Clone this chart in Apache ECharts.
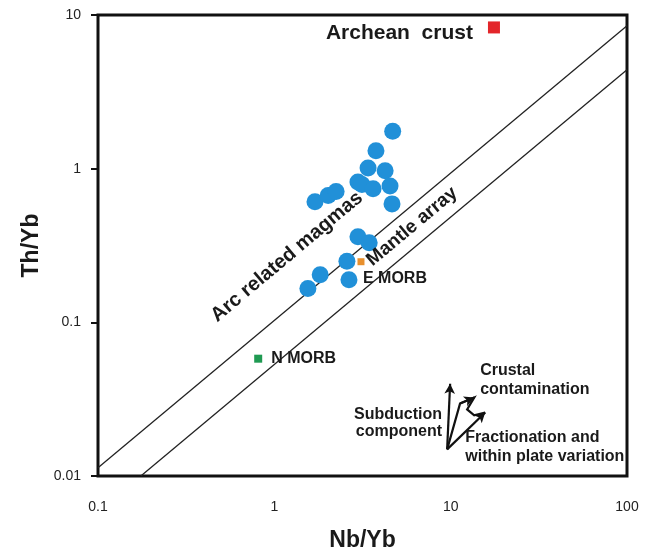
<!DOCTYPE html>
<html>
<head>
<meta charset="utf-8">
<script src="https://cdn.jsdelivr.net/npm/echarts@6/dist/echarts.min.js"></script>
<style>html,body{margin:0;padding:0;background:#fff;}#c{width:651px;height:557px;}</style>
</head>
<body>
<div id="c"></div>
<script>
// ---- data ----
const samplesNbYb = [4.69, 3.77, 3.40, 4.25, 2.98, 3.14, 3.63, 4.53, 4.65, 1.70, 2.02, 2.24, 2.98, 3.45, 2.58, 1.82, 1.55, 2.65];
const samplesThYb = [1.75, 1.31, 1.01, 0.97, 0.82, 0.79, 0.74, 0.77, 0.59, 0.61, 0.67, 0.71, 0.36, 0.33, 0.25, 0.204, 0.166, 0.189];
const archeanCrust = [17.6, 8.3];
const eMORB = [3.10, 0.248];
const nMORB = [0.81, 0.058];
const mantleUpperX = [0.1, 100];
const mantleUpperY = [0.0113, 8.5];
const mantleLowerX = [0.175, 100];
const mantleLowerY = [0.01, 4.4];
const xTickLabels = ['0.1', '1', '10', '100'];
const yTickLabels = ['0.01', '0.1', '1', '10'];
// vector symbol outline (Nb/Yb, Th/Yb)
const vectorX = [9.55, 11.3, 13.6, 12.4, 13.6, 15.7];
const vectorY = [0.0149, 0.0296, 0.0324, 0.0271, 0.0248, 0.0259];
const vectorUpTip = [9.93, 0.0398];

const samples = samplesNbYb.map((x, i) => [x, samplesThYb[i]]);
const zip = (xs, ys) => xs.map((x, i) => [x, ys[i]]);
const vec = zip(vectorX, vectorY);

const FONT = 'Liberation Sans, Arial, sans-serif';
const boldText = { fontFamily: FONT, fontWeight: 'bold', color: '#1a1a1a', opacity: 1 };

const chart = echarts.init(document.getElementById('c'), null, { renderer: 'canvas' });
chart.setOption({
  animation: false,
  backgroundColor: '#fff',
  grid: { left: 98, right: 24, top: 15, bottom: 77, show: true, borderColor: '#111', borderWidth: 3, backgroundColor: 'transparent' },
  xAxis: {
    type: 'log', logBase: 10, min: 0.1, max: 100,
    name: 'Nb/Yb', nameLocation: 'middle', nameGap: 53,
    nameTextStyle: { fontSize: 23, fontWeight: 'bold', color: '#1a1a1a', fontFamily: FONT },
    axisLine: { show: false },
    axisTick: { show: false },
    splitLine: { show: false },
    minorTick: { show: false },
    axisLabel: {
      margin: 24, fontSize: 14, color: '#222', fontFamily: FONT,
      formatter: v => xTickLabels[Math.round(Math.log10(v)) + 1]
    }
  },
  yAxis: {
    type: 'log', logBase: 10, min: 0.01, max: 10,
    name: 'Th/Yb', nameLocation: 'middle', nameGap: 52,
    nameTextStyle: { fontSize: 23, fontWeight: 'bold', color: '#1a1a1a', fontFamily: FONT },
    axisLine: { show: false },
    axisTick: { show: true, length: 7, lineStyle: { color: '#111', width: 2 } },
    splitLine: { show: false },
    axisLabel: {
      margin: 17, fontSize: 14, color: '#222', fontFamily: FONT,
      formatter: v => yTickLabels[Math.round(Math.log10(v)) + 2]
    }
  },
  series: [
    {
      type: 'line', data: zip(mantleUpperX, mantleUpperY), symbol: 'none',
      lineStyle: { color: '#222', width: 1.3 }, z: 2
    },
    {
      type: 'line', data: zip(mantleLowerX, mantleLowerY), symbol: 'none',
      lineStyle: { color: '#222', width: 1.3 }, z: 2
    },
    {
      type: 'scatter', data: samples, symbol: 'circle', symbolSize: 17,
      itemStyle: { color: '#2190d8', opacity: 1 }, z: 3
    },
    {
      type: 'scatter', data: [archeanCrust], symbol: 'rect', symbolSize: 12,
      itemStyle: { color: '#e3262a', opacity: 1 },
      label: { show: true, formatter: 'Archean  crust', position: 'left', distance: 15, offset: [0, 6], fontSize: 21, ...boldText }, z: 4
    },
    {
      type: 'scatter', data: [eMORB], symbol: 'rect', symbolSize: 7,
      itemStyle: { color: '#e8902e', opacity: 1 },
      label: { show: true, formatter: 'E MORB', position: 'inside', align: 'left', verticalAlign: 'middle', offset: [2, 17], fontSize: 16, ...boldText }, z: 4
    },
    {
      type: 'scatter', data: [nMORB], symbol: 'rect', symbolSize: 8,
      itemStyle: { color: '#1f9a52', opacity: 1 },
      label: { show: true, formatter: 'N MORB', position: 'right', distance: 9, fontSize: 16, ...boldText }, z: 4
    },
    {
      // text annotations anchored in data space
      type: 'scatter', symbolSize: 1, itemStyle: { color: 'rgba(0,0,0,0)', opacity: 1 }, silent: true, z: 5,
      data: [
        { value: [1.18, 0.267], label: { show: true, formatter: 'Arc related magmas', position: 'inside', align: 'center', verticalAlign: 'middle', rotate: 40, fontSize: 20, ...boldText } },
        { value: [6.04, 0.42], label: { show: true, formatter: 'Mantle array', position: 'inside', align: 'center', verticalAlign: 'middle', rotate: 40, fontSize: 19, ...boldText } },
        { value: [14.7, 0.0423], label: { show: true, formatter: 'Crustal\ncontamination', position: 'inside', align: 'left', verticalAlign: 'middle', lineHeight: 19, fontSize: 16, ...boldText } },
        { value: [8.94, 0.0220], label: { show: true, formatter: 'Subduction\ncomponent', position: 'inside', align: 'right', verticalAlign: 'middle', lineHeight: 17, fontSize: 16, ...boldText } },
        { value: [12.1, 0.0154], label: { show: true, formatter: 'Fractionation and\nwithin plate variation', position: 'inside', align: 'left', verticalAlign: 'middle', lineHeight: 19, fontSize: 16, ...boldText } }
      ]
    },
    {
      // vector symbol: zig-zag outline
      type: 'line', data: vec, symbol: 'none', silent: true, z: 6,
      lineStyle: { color: '#111', width: 2.2, join: 'miter' },
      markLine: {
        silent: true, symbol: ['none', 'arrow'], symbolSize: [8, 10],
        lineStyle: { color: '#111', width: 2.2, type: 'solid' },
        label: { show: false },
        data: [
          [{ coord: vec[0] }, { coord: vectorUpTip }],
          [{ coord: vec[1] }, { coord: vec[2] }],
          [{ coord: vec[0] }, { coord: vec[5] }]
        ]
      }
    }
  ]
});
</script>
</body>
</html>
